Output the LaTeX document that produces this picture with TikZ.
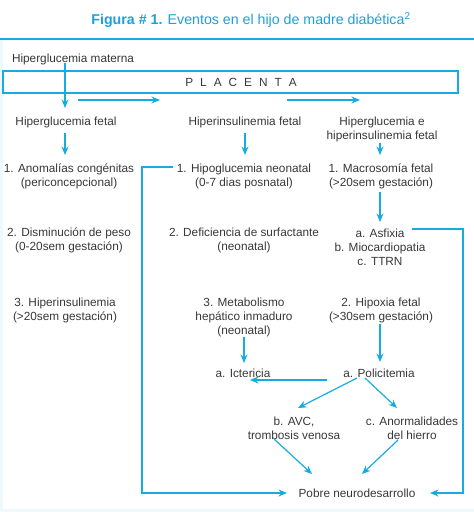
\documentclass[tikz,border=0pt]{standalone}
\usepackage{fontspec}
\setmainfont{Liberation Sans}
\usetikzlibrary{arrows.meta,calc}
\definecolor{lc}{RGB}{22,172,226}
\definecolor{tc}{RGB}{28,160,215}
\definecolor{gx}{RGB}{55,55,55}
\definecolor{fr}{RGB}{238,249,252}
\begin{document}
\begin{tikzpicture}[x=1pt,y=-1pt,
  txt/.style={inner sep=0pt,outer sep=0pt,align=center,text=gx,font=\fontsize{11.8}{14}\selectfont},
  arr/.style={draw=lc,line width=1.2pt,-{Stealth[length=8.5pt,width=7pt]}},
  ln/.style={draw=lc,line width=1.2pt},
  plbox/.style={draw=lc,line width=1.2pt,minimum width=455pt,minimum height=22pt,inner sep=0pt}]
\useasboundingbox (0,0) rectangle (474,512);
% frame
\draw[fr,line width=3pt] (1.5,39) -- (1.5,510.5) -- (474,510.5);
\draw[ln] (0,39) -- (474,39);
% title
\node[inner sep=0pt,text=tc,font=\fontsize{14.2}{16}\selectfont] (title) at (251,20)
  {\textbf{Figura \# 1.} Eventos en el hijo de madre diabética\textsuperscript{2}};
% nodes
\node[txt] (hm) at (73,59) {Hiperglucemia materna};
\node[plbox] (pl) at (230.5,82) {};
\node[txt] (plt) at (241,82) {P\hspace{7pt}L\hspace{7pt}A\hspace{7pt}C\hspace{7pt}E\hspace{7pt}N\hspace{7pt}T\hspace{7pt}A};
\node[txt] (hf) at (66,122) {Hiperglucemia fetal};
\node[txt] (hif) at (245,122) {Hiperinsulinemia fetal};
\node[txt] (hhf) at (382,129) {Hiperglucemia e\\hiperinsulinemia fetal};
\node[txt] (a1) at (69,176.5) {1. Anomalías congénitas\\(periconcepcional)};
\node[txt] (b1) at (244,176.5) {1. Hipoglucemia neonatal\\(0-7 dias posnatal)};
\node[txt] (c1) at (381,176.5) {1. Macrosomía fetal\\(>20sem gestación)};
\node[txt] (a2) at (69,240) {2. Disminución de peso\\(0-20sem gestación)};
\node[txt] (b2) at (244,240) {2. Deficiencia de surfactante\\(neonatal)};
\node[txt] (c2) at (380,247) {a. Asfixia\\b. Miocardiopatia\\c. TTRN};
\node[txt] (a3) at (65,310) {3. Hiperinsulinemia\\(>20sem gestación)};
\node[txt] (b3) at (244,317) {3. Metabolismo\\hepático inmaduro\\(neonatal)};
\node[txt] (c3) at (381,310) {2. Hipoxia fetal\\(>30sem gestación)};
\node[txt] (ict) at (243,373) {a. Ictericia};
\node[txt] (pol) at (379,373) {a. Policitemia};
\node[txt] (avc) at (294,428.5) {b. AVC,\\trombosis venosa};
\node[txt] (anh) at (412,428.5) {c. Anormalidades\\del hierro};
\node[txt] (pn) at (357,493) {Pobre neurodesarrollo};
% free-end coordinates of the horizontal arrows
\coordinate (h1s) at (78,100);
\coordinate (h1e) at (160,100);
\coordinate (h2s) at (287,100);
\coordinate (h2e) at (360,100);
% connectors
\draw[arr] ($(hm.center -| hf.center)+(-1,4)$) -- ($(hf.center)+(-1,-14)$);
\draw[arr] (h1s) -- (h1e);
\draw[arr] (h2s) -- (h2e);
\draw[arr] ($(hf.center)+(-1,11)$) -- ($(a1.center)+(-4,-21.5)$);
\draw[arr] ($(hif.center)+(0,11)$) -- ($(b1.center)+(1,-21.5)$);
\draw[arr] ($(hhf.center)+(-2,14)$) -- ($(c1.center)+(-1,-21.5)$);
\draw[arr] ($(c1.center)+(-1,15.5)$) -- ($(c2.center)+(0,-25)$);
\draw[arr] ($(b1.center)+(-71,-9.5)$) -- ++(-31,0) |- ($(pn.center)+(-70,0)$);
\draw[arr] ($(c2.center)+(32,-18)$) -- ++(51,0) |- ($(pn.center)+(73,0)$);
\draw[arr] ($(b3.center)+(0,20)$) -- ($(ict.center)+(1,-10)$);
\draw[arr] ($(c3.center)+(-1,14)$) -- ($(pol.center)+(1,-11)$);
\draw[arr] ($(pol.center)+(-52,7)$) -- ($(ict.center)+(7,7)$);
\draw[arr] ($(pol.center)+(-22,5)$) -- ($(avc.center)+(4,-20.5)$);
\draw[arr] ($(pol.center)+(-14,5)$) -- ($(anh.center)+(-15,-20.5)$);
\draw[arr] ($(avc.center)+(-20,10.5)$) -- ($(pn.center)+(-45,-19)$);
\draw[arr] ($(anh.center)+(-14,11.5)$) -- ($(pn.center)+(5,-19)$);
\end{tikzpicture}
\end{document}
